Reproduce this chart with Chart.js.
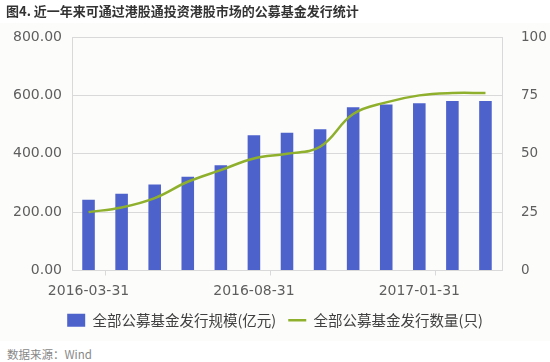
<!DOCTYPE html>
<html>
<head>
<meta charset="utf-8">
<script src="https://cdn.jsdelivr.net/npm/chart.js@4"></script>
<style>
  html, body { margin: 0; padding: 0; background: #ffffff; }
  body { width: 550px; height: 362px; position: relative; overflow: hidden; }
  #title { position: absolute; left: 6px; top: 3px; font: bold 13px "Noto Sans CJK SC", sans-serif; color: #333333; line-height: 16px; white-space: nowrap; }
  #wrap { position: absolute; left: 0; top: 0; width: 550px; height: 345px; }
  #bg { position: absolute; left: 0; top: 23px; width: 550px; height: 318px; background: #fcfcfa; }
  #src { position: absolute; left: 7px; top: 347px; font: 11.5px "Noto Sans CJK SC", sans-serif; color: #888888; line-height: 14px; white-space: nowrap; }
</style>
</head>
<body>
<div id="bg"></div>
<div id="wrap"><canvas id="c"></canvas></div>
<div id="title">图4. 近一年来可通过港股通投资港股市场的公募基金发行统计</div>
<div id="src">数据来源：Wind</div>
<script>
const categories = ['2016-03-31','2016-04-30','2016-05-31','2016-06-30','2016-07-31','2016-08-31','2016-09-30','2016-10-31','2016-11-30','2016-12-31','2017-01-31','2017-02-28','2017-03-31'];
const scaleValues = [242, 263, 295, 321, 361, 463, 472, 484, 559, 569, 573, 581, 581];
const countValues = [25, 27, 31, 38, 43, 48, 50, 53, 67, 72, 75, 76, 76];
const leftTicks = [0, 200, 400, 600, 800];
const rightTicks = [0, 25, 50, 75, 100];
const seriesNames = ['全部公募基金发行规模(亿元)', '全部公募基金发行数量(只)'];

const tickFont = { family: 'DejaVu Sans', size: 14 };
const tickColor = '#5e5e5e';
const gridColor = '#d9d9d9';

new Chart(document.getElementById('c'), {
  data: {
    labels: categories,
    datasets: [
      {
        type: 'line',
        label: seriesNames[1],
        data: countValues,
        yAxisID: 'y1',
        borderColor: '#8fb02c',
        backgroundColor: '#8fb02c',
        borderWidth: 2.5,
        pointRadius: 0,
        tension: 0.4,
        fill: false,
        order: 0,
        pointStyle: 'line'
      },
      {
        type: 'bar',
        label: seriesNames[0],
        data: scaleValues,
        yAxisID: 'y',
        backgroundColor: '#4e62cc',
        borderWidth: 0,
        categoryPercentage: 1,
        barPercentage: 0.38,
        order: 1,
        pointStyle: 'rect'
      }
    ]
  },
  options: {
    responsive: true,
    maintainAspectRatio: false,
    animation: false,
    layout: { padding: { top: 37, bottom: 7.5, left: 0, right: 0 } },
    plugins: {
      legend: {
        position: 'bottom',
        reverse: true,
        labels: {
          usePointStyle: true,
          pointStyleWidth: 18,
          boxHeight: 13,
          padding: 12,
          color: '#404040',
          font: { family: 'Noto Sans CJK SC', size: 14.5 }
        }
      },
      tooltip: { enabled: false }
    },
    scales: {
      x: {
        type: 'category',
        offset: true,
        afterFit: (a) => { a.height = 30.5; },
        grid: {
          offset: true,
          drawOnChartArea: false,
          drawTicks: true,
          tickLength: 5,
          color: (ctx) => (ctx.index % 5 === 1 ? gridColor : 'rgba(0,0,0,0)')
        },
        border: { display: true, color: gridColor, width: 1 },
        ticks: {
          autoSkip: false,
          maxRotation: 0,
          padding: 7,
          color: tickColor,
          font: tickFont,
          callback: function (v, i) { return i % 5 === 0 ? this.getLabelForValue(v) : ''; }
        }
      },
      y: {
        position: 'left',
        min: 0, max: 800,
        afterFit: (a) => { a.width = 72; },
        afterBuildTicks: (a) => { a.ticks = leftTicks.map(v => ({ value: v })); },
        grid: { color: gridColor, drawTicks: false, lineWidth: 1 },
        border: { display: true, color: gridColor },
        ticks: { padding: 10, color: tickColor, font: tickFont, callback: (v) => Number(v).toFixed(2) }
      },
      y1: {
        position: 'right',
        min: 0, max: 100,
        afterFit: (a) => { a.width = 48; },
        afterBuildTicks: (a) => { a.ticks = rightTicks.map(v => ({ value: v })); },
        grid: { drawOnChartArea: false, drawTicks: false },
        border: { display: true, color: gridColor },
        ticks: { padding: 19, color: tickColor, font: { family: 'DejaVu Sans', size: 13.5 } }
      }
    }
  }
});
</script>
</body>
</html>
